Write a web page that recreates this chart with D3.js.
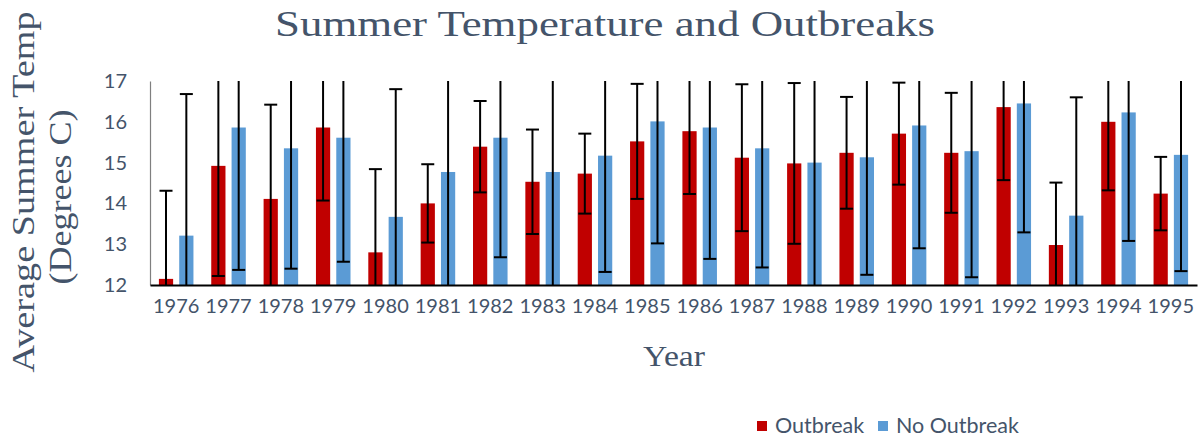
<!DOCTYPE html>
<html>
<head>
<meta charset="utf-8">
<script src="https://cdn.jsdelivr.net/npm/d3@7"></script>
<style>
  body { margin: 0; background: white; }
</style>
</head>
<body>
<script>
// chart values
var years = ["1976","1977","1978","1979","1980","1981","1982","1983","1984","1985",
             "1986","1987","1988","1989","1990","1991","1992","1993","1994","1995"];
var outbreak    = [12.15,14.92,14.11,15.86,12.80,14.00,15.39,14.53,14.73,15.52,
                   15.77,15.12,14.98,15.24,15.71,15.24,16.36,12.98,16.00,14.24];
var outbreakErr = [2.16,2.70,2.31,1.79,2.04,0.96,1.12,1.28,0.98,1.41,
                   1.54,1.80,1.97,1.37,1.25,1.47,1.79,1.53,1.68,0.90];
var noOutbreak    = [13.21,15.86,15.35,15.61,13.67,14.77,15.61,14.77,15.17,16.01,
                     15.86,15.35,15.00,15.13,15.91,15.28,16.45,13.70,16.23,15.19];
var noOutbreakErr = [3.47,3.49,2.95,3.04,3.13,3.10,2.93,3.10,2.85,2.99,
                     3.22,2.92,3.20,2.88,3.01,3.09,3.16,2.90,3.15,2.85];
var series = ["Outbreak", "No Outbreak"];
var colors = ["#C00000", "#5B9BD5"];
var yTicks = [12, 13, 14, 15, 16, 17];

var width = 1202,
    height = 438;
var textColor = "#44546A";
var serif = "'Liberation Serif', 'DejaVu Serif', serif";
var sans = "Lato, 'Open Sans', sans-serif";

var svg = d3.select("body").append("svg")
  .attr("width", width)
  .attr("height", height);

// plot area (window.top is taken, so plotTop etc.)
var plotLeft = 150, plotRight = 1197, plotTop = 81, plotBottom = 285;

var x0 = d3.scaleBand().domain(years).range([plotLeft, plotRight]);
var x1 = d3.scaleBand().domain(series)
  .range([x0.bandwidth() * 0.17, x0.bandwidth() * 0.83])
  .paddingInner(0.3);
var y = d3.scaleLinear().domain([12, 17]).range([plotBottom, plotTop]);

// rows: one per year and series
var rows = [];
years.forEach(function(yr, i) {
  rows.push({ year: yr, s: series[0], v: outbreak[i], e: outbreakErr[i], c: colors[0] });
  rows.push({ year: yr, s: series[1], v: noOutbreak[i], e: noOutbreakErr[i], c: colors[1] });
});

svg.append("defs").append("clipPath").attr("id", "plot")
  .append("rect")
  .attr("x", plotLeft - 5).attr("y", plotTop)
  .attr("width", plotRight - plotLeft + 10).attr("height", plotBottom - plotTop);

var plot = svg.append("g").attr("clip-path", "url(#plot)");

plot.selectAll("rect.bar")
  .data(rows)
  .enter().append("rect")
  .attr("class", "bar")
  .attr("x", function(d) { return x0(d.year) + x1(d.s); })
  .attr("width", x1.bandwidth())
  .attr("y", function(d) { return y(d.v); })
  .attr("height", function(d) { return y(12) - y(d.v); })
  .style("fill", function(d) { return d.c; });

// error bars, clipped to the plot like the original
var err = plot.selectAll("g.err")
  .data(rows)
  .enter().append("g")
  .attr("class", "err")
  .attr("transform", function(d) { return "translate(" + (x0(d.year) + x1(d.s) + x1.bandwidth() / 2) + ",0)"; })
  .style("stroke", "black")
  .style("stroke-width", 2);

err.append("line")
  .attr("y1", function(d) { return y(d.v + d.e); })
  .attr("y2", function(d) { return y(d.v - d.e); });
err.append("line")
  .attr("x1", -6.5).attr("x2", 6.5)
  .attr("y1", function(d) { return y(d.v + d.e); })
  .attr("y2", function(d) { return y(d.v + d.e); });
err.append("line")
  .attr("x1", -6.5).attr("x2", 6.5)
  .attr("y1", function(d) { return y(d.v - d.e); })
  .attr("y2", function(d) { return y(d.v - d.e); });

// axes
var yAxis = svg.append("g")
  .attr("transform", "translate(" + plotLeft + ",0)")
  .call(d3.axisLeft(y).tickValues(yTicks).tickFormat(d3.format("d")).tickSize(0).tickPadding(23));
yAxis.select(".domain").attr("stroke", "#7f7f7f").attr("stroke-width", 1.2);
yAxis.selectAll("text")
  .style("font-family", sans)
  .style("font-size", "20px")
  .style("fill", textColor);

var xAxis = svg.append("g")
  .attr("transform", "translate(0," + plotBottom + ")")
  .call(d3.axisBottom(x0).tickSize(0).tickPadding(14));
xAxis.select(".domain").attr("stroke", "black").attr("stroke-width", 2);
xAxis.selectAll("text")
  .style("font-family", sans)
  .style("font-size", "20px")
  .style("fill", textColor);

// titles
svg.append("text")
  .attr("x", 605).attr("y", 36)
  .attr("text-anchor", "middle")
  .attr("textLength", 660)
  .attr("lengthAdjust", "spacingAndGlyphs")
  .style("font-family", serif)
  .style("font-size", "35px")
  .style("fill", textColor)
  .text("Summer Temperature and Outbreaks");

svg.append("text")
  .attr("x", 674).attr("y", 366)
  .attr("text-anchor", "middle")
  .attr("textLength", 62)
  .attr("lengthAdjust", "spacingAndGlyphs")
  .style("font-family", serif)
  .style("font-size", "30px")
  .style("fill", textColor)
  .text("Year");

svg.append("text")
  .attr("transform", "translate(34,192) rotate(-90)")
  .attr("text-anchor", "middle")
  .attr("textLength", 361)
  .attr("lengthAdjust", "spacingAndGlyphs")
  .style("font-family", serif)
  .style("font-size", "31px")
  .style("fill", textColor)
  .text("Average Summer Temp");

svg.append("text")
  .attr("transform", "translate(71,197) rotate(-90)")
  .attr("text-anchor", "middle")
  .attr("textLength", 175)
  .attr("lengthAdjust", "spacingAndGlyphs")
  .style("font-family", serif)
  .style("font-size", "31px")
  .style("fill", textColor)
  .text("(Degrees C)");

// legend
var legend = svg.append("g").selectAll("g")
  .data(series)
  .enter().append("g")
  .attr("transform", function(d, i) { return "translate(" + [757, 878][i] + ",421)"; });
legend.append("rect")
  .attr("width", 10).attr("height", 10)
  .style("fill", function(d, i) { return colors[i]; });
legend.append("text")
  .attr("x", 18).attr("y", 12)
  .style("font-family", sans)
  .style("font-size", "21.5px")
  .style("fill", textColor)
  .text(function(d) { return d; });
</script>
</body>
</html>
